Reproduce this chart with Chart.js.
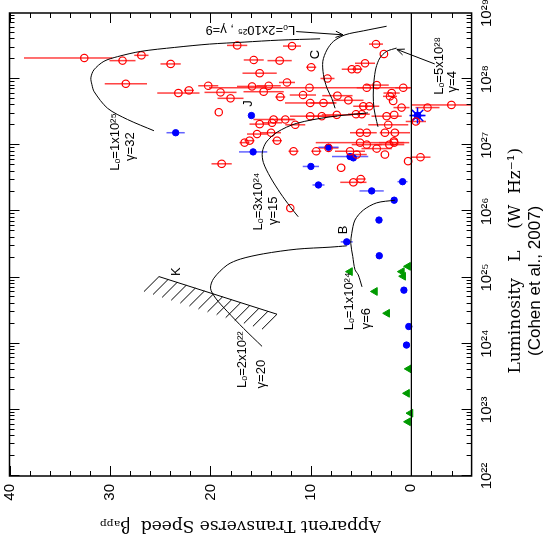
<!DOCTYPE html>
<html>
<head>
<meta charset="utf-8">
<script src="https://cdn.jsdelivr.net/npm/chart.js@4.4.1/dist/chart.umd.min.js"></script>
<style>
html, body { margin: 0; padding: 0; background: #fff; }
#marco { position: relative; width: 546px; height: 544px; overflow: hidden; background: #fff; }
/* el grafico se dibuja "de pie" y se gira 90 grados como en la figura original */
#grafico { position: absolute; left: 0; top: 0; transform-origin: 0 0; transform: translateY(544px) rotate(-90deg); }
</style>
</head>
<body>
<div id="marco"><canvas id="grafico" width="544" height="546"></canvas></div>
<script>
// ejes
const tickExps = [22, 23, 24, 25, 26, 27, 28, 29];
const betaTicks = [0, 10, 20, 30, 40];

// fuentes con movimiento (circulos rojos): beta_app, log L, error en beta
const redBeta = [32.56, 28.75, 26.87, 23.96, 28.42, 23.19, 22.14, 20.22, 19.0, 18.0, 19.17, 17.34,
  11.88, 15.69, 13.11, 15.1, 9.97, 8.35, 15.86, 14.2, 14.7, 13.05, 12.38, 10.14, 10.79, 10.07,
  8.75, 7.36, 6.27, 5.93, 5.38, 4.61, 3.52, 2.73, 4.44, 3.45, 4.78, 4.19, 1.96, 0.81, 2.13, 1.81,
  0.97, 2.46, 1.71, 2.3, 2.63, 1.64, -0.45, -1.61, -3.99, 5.51, 4.94, 7.42, 8.91, 10.07, 11.56,
  12.55, 13.87, 13.71, 15.1, 15.36, 13.97, 16.6, 16.1, 5.11, 4.44, 1.74, 13.37, 11.73, 9.47, 8.25,
  6.1, 5.44, 5.11, 4.44, 3.45, 2.63, 2.2, 1.71, 0.32, -0.91, 6.99, 5.77, 5.04, 12.05, 18.88];
const redLogL = [28.32, 28.28, 28.36, 28.23, 27.93, 27.79, 27.83, 27.90, 27.80, 27.71, 27.50, 28.51,
  28.50, 28.29, 28.28, 28.09, 28.18, 28.01, 27.89, 27.90, 27.81, 27.73, 27.95, 27.87, 27.76, 27.64,
  27.64, 27.75, 27.68, 28.15, 28.15, 28.24, 28.53, 28.38, 27.87, 27.91, 27.59, 27.59, 27.79, 27.87, 27.74, 27.67,
  27.57, 27.44, 27.46, 27.31, 27.19, 27.19, 27.36, 27.57, 27.61, 27.47, 27.47, 27.46, 27.44, 27.44, 27.31,
  27.39, 27.34, 27.39, 27.32, 27.17, 27.19, 27.04, 27.07, 27.19, 27.19, 27.06, 27.07, 26.91, 26.91, 26.96,
  26.91, 26.86, 27.04, 27.01, 26.95, 26.86, 27.01, 27.04, 26.76, 26.82, 26.66, 26.44, 26.49, 26.05, 26.72];
const redErr = [[2.8, 6.0], 1.3, 0.7, 1.0, 2.1, 2.1, 0.5, 1.0, 1.6, 1.3, 0, 1.0,
  0.9, 1.0, 1.2, 1.7, 0.5, 0.7, 1.5, 1.2, 2.0, 0.5, 0.8, 10, 1.3, 2.5,
  1.3, 1.5, 1.5, 1.0, 0.5, 1.0, 0.7, 0, 1.0, 1.2, 1.0, 1.0, 0.8, 0.8, 0.7, 0,
  0.8, 1.5, 0, 2.0, 0, 1.5, 1.0, 1.2, 4.0, 0.8, 0.8, 1.5, 1.5, 2.0, 1.0,
  1.0, 1.0, 2.0, 1.0, 1.0, 1.0, 0.5, 0.5, 1.0, 1.0, 0, 0.5, 0.5, 0.5, 1.0,
  1.5, 1.0, 4.4, 1.5, 1.5, 0, 1.5, 1.5, 0, 1.0, 0, 1.3, 0.5, 0, 1.0];

// fuentes azules (puntos llenos)
const blueBeta = [23.46, 15.92, 15.75, 10.0, 8.25, 6.1, 5.77, 9.25, 3.95, 0.87, 1.71, 3.22, 6.43, 3.19, 0.74, 0.25, 0.48];
const blueLogL = [27.19, 27.45, 26.90, 26.68, 26.97, 26.83, 26.81, 26.40, 26.31, 26.45, 26.17, 25.87, 25.54, 25.33, 24.81, 24.26, 23.98];
const blueErr = [0.9, 0, 1.4, 0.8, 1.0, 1.8, 0, 0.6, 1.2, 0.5, 0, 0, 0.6, 0, 0, 0, 0];

// estrella azul
const starBeta = [-0.62];
const starLogL = [27.45];
const starErr = [0.7];

// triangulos verdes
const greenBeta = [0.32, 6.1, 0.81, 0.94, 3.62, 2.4, 0.25, 0.42, 0.08, 0.32];
const greenLogL = [25.17, 25.09, 25.02, 25.09, 24.79, 24.46, 23.62, 23.25, 22.95, 22.82];

// curvas de aspecto
const g32Beta = [9.08, 13.18, 16.65, 20.1, 23.55, 26.93, 29.25, 30.6, 31.6, 31.9, 31.8, 31.57, 30.24, 28.25, 25.62];
const g32LogL = [28.61, 28.59, 28.56, 28.53, 28.48, 28.42, 28.34, 28.27, 28.14, 28.02, 27.92, 27.81, 27.56, 27.39, 27.22];
const g9Beta = [2.46, 4.78, 6.6, 7.76, 8.41, 8.81, 8.75, 8.41, 7.92, 7.59];
const g9LogL = [28.80, 28.73, 28.67, 28.57, 28.44, 28.27, 28.07, 27.87, 27.71, 27.56];
const g4Beta = [1.47, 2.46, 3.13, 3.52, 3.72, 3.79, 3.72, 3.45, 3.32];
const g4LogL = [28.47, 28.42, 28.32, 28.17, 27.97, 27.76, 27.56, 27.36, 27.28];
const g15Beta = [4.32, 8.09, 11.46, 13.34, 14.43, 14.83, 14.73, 14.04, 13.05, 12.05, 11.26];
const g15LogL = [27.49, 27.43, 27.33, 27.20, 27.05, 26.90, 26.74, 26.52, 26.28, 26.07, 25.92];
const g6Beta = [1.64, 3.45, 4.78, 5.61, 5.93, 6.03, 5.83, 5.61, 5.28, 4.91];
const g6LogL = [26.17, 26.13, 26.02, 25.87, 25.67, 25.52, 25.32, 25.12, 25.04, 24.86];
const g20Beta = [6.43, 8.09, 11.39, 14.7, 17.01, 18.33, 19.66, 19.99, 19.49, 18.33, 16.69, 14.86];
const g20LogL = [25.48, 25.46, 25.43, 25.36, 25.28, 25.19, 24.99, 24.84, 24.69, 24.49, 24.23, 23.96];

// limite K (linea rayada)
const kBeta = [25.12, 13.37];
const kLogL = [25.015, 24.446];

// textos: texto, beta, log L, girado
const etiquetas = [
  ["Lₒ=1x10²⁵", 29.41, 27.05, false], ["γ=32", 27.93, 26.98, false],
  ["Lₒ=3x10²⁴", 15.23, 26.15, false], ["γ=15", 13.74, 26.01, false],
  ["Lₒ=1x10²⁴", 6.2, 24.64, false], ["γ=6", 4.51, 24.38, false],
  ["Lₒ=2x10²²", 16.77, 23.76, false], ["γ=20", 14.93, 23.54, false],
  ["Lₒ=5x10²⁸", -2.83, 28.2, false], ["γ=4", -4.12, 27.96, false],
  ["Lₒ=2x10²⁵ , γ=9", 16.02, 28.75, true],
  ["J", 16.2, 27.63, false], ["C", 9.57, 28.37, false], ["B", 6.77, 25.72, false], ["K", 23.36, 25.09, false]
];
// flechas: beta y log L de cola y punta
const flechas = [
  [11.46, 28.72, 6.8, 28.67],
  [-2.33, 28.23, 1.44, 28.45]
];

const supDig = "⁰¹²³⁴⁵⁶⁷⁸⁹";
const sup = n => String(n).split("").map(d => supDig[+d]).join("");
const pts = (b, l) => b.map((v, i) => ({ x: Math.pow(10, l[i]), y: v }));

const curva = (b, l) => ({
  data: pts(b, l), showLine: true, borderColor: "#000", borderWidth: 1,
  pointRadius: 0, tension: 0.3, fill: false
});

const pixel = (chart, beta, logL) => ({
  x: chart.scales.x.getPixelForValue(Math.pow(10, logL)),
  y: chart.scales.y.getPixelForValue(beta)
});

// barras de error en beta
const barrasError = {
  id: "barrasError",
  beforeDatasetsDraw(chart) {
    const ctx = chart.ctx;
    const a = chart.chartArea;
    ctx.save();
    ctx.beginPath();
    ctx.rect(a.left, a.top, a.right - a.left, a.bottom - a.top);
    ctx.clip();
    const dibujar = (b, l, e, color, ancho) => {
      ctx.strokeStyle = color;
      ctx.lineWidth = ancho;
      b.forEach((v, i) => {
        let lo = e[i], hi = e[i];
        if (Array.isArray(e[i])) { lo = e[i][0]; hi = e[i][1]; }
        if (!lo && !hi) return;
        const p1 = pixel(chart, v - lo, l[i]);
        const p2 = pixel(chart, v + hi, l[i]);
        ctx.beginPath();
        ctx.moveTo(p1.x, p1.y);
        ctx.lineTo(p2.x, p2.y);
        ctx.stroke();
      });
    };
    dibujar(redBeta, redLogL, redErr, "rgba(255,30,30,0.85)", 1.5);
    dibujar(blueBeta, blueLogL, blueErr, "rgba(60,60,255,0.8)", 1.5);
    dibujar(starBeta, starLogL, starErr, "rgba(60,60,255,0.8)", 1.5);
    ctx.restore();
  }
};

// marco, marcas hacia adentro, textos y flechas
const adornos = {
  id: "adornos",
  afterDatasetsDraw(chart) {
    const ctx = chart.ctx;
    const a = chart.chartArea;
    const sx = chart.scales.x, sy = chart.scales.y;
    ctx.save();
    ctx.strokeStyle = "#000";
    ctx.lineWidth = 1.5;
    ctx.strokeRect(a.left, a.top, a.right - a.left, a.bottom - a.top);
    ctx.lineWidth = 1;
    ctx.beginPath();
    for (let e = 22; e < 29; e++) {
      for (let m = 1; m < 10; m++) {
        const x = Math.round(sx.getPixelForValue(m * Math.pow(10, e))) + 0.5;
        const len = m === 1 ? 10 : 5;
        ctx.moveTo(x, a.bottom); ctx.lineTo(x, a.bottom - len);
        ctx.moveTo(x, a.top); ctx.lineTo(x, a.top + len);
      }
    }
    for (let b = -4; b <= 40; b += 2) {
      const y = Math.round(sy.getPixelForValue(b)) + 0.5;
      const len = b % 10 === 0 ? 10 : 5;
      ctx.moveTo(a.left, y); ctx.lineTo(a.left + len, y);
      ctx.moveTo(a.right, y); ctx.lineTo(a.right - len, y);
    }
    ctx.stroke();

    // linea K con rayas
    const k1 = pixel(chart, kBeta[0], kLogL[0]);
    const k2 = pixel(chart, kBeta[1], kLogL[1]);
    ctx.beginPath();
    ctx.moveTo(k1.x, k1.y); ctx.lineTo(k2.x, k2.y);
    const n = 14;
    for (let i = 0; i < n; i++) {
      const t = i / (n - 1);
      const x = k1.x + (k2.x - k1.x) * t, y = k1.y + (k2.y - k1.y) * t;
      ctx.moveTo(x, y); ctx.lineTo(x - 15, y - 15);
    }
    ctx.stroke();

    // flechas
    flechas.forEach(f => {
      const p = pixel(chart, f[0], f[1]);
      const q = pixel(chart, f[2], f[3]);
      const ang = Math.atan2(q.y - p.y, q.x - p.x);
      ctx.beginPath();
      ctx.moveTo(p.x, p.y); ctx.lineTo(q.x, q.y);
      ctx.moveTo(q.x - 8 * Math.cos(ang - 0.4), q.y - 8 * Math.sin(ang - 0.4));
      ctx.lineTo(q.x, q.y);
      ctx.lineTo(q.x - 8 * Math.cos(ang + 0.4), q.y - 8 * Math.sin(ang + 0.4));
      ctx.stroke();
    });

    // textos
    ctx.fillStyle = "#000";
    ctx.font = "13px 'Liberation Sans', 'DejaVu Sans', sans-serif";
    ctx.textAlign = "center";
    ctx.textBaseline = "middle";
    etiquetas.forEach(t => {
      const p = pixel(chart, t[1], t[2]);
      ctx.save();
      ctx.translate(p.x, p.y);
      if (t[3]) ctx.rotate(-Math.PI / 2);
      ctx.fillText(t[0], 0, 0);
      ctx.restore();
    });
    ctx.restore();
  }
};

const fondo = {
  id: "fondo",
  beforeDraw(chart) {
    const ctx = chart.ctx;
    ctx.save();
    ctx.fillStyle = "#fff";
    ctx.fillRect(0, 0, chart.width, chart.height);
    ctx.restore();
  }
};

const datos = {
  datasets: [
    { data: [{ x: 1e22, y: 0 }, { x: 1e29, y: 0 }], showLine: true, borderColor: "#000", borderWidth: 1.2, pointRadius: 0 },
    curva(g32Beta, g32LogL),
    curva(g9Beta, g9LogL),
    curva(g4Beta, g4LogL),
    curva(g15Beta, g15LogL),
    curva(g6Beta, g6LogL),
    curva(g20Beta, g20LogL),
    { data: pts(redBeta, redLogL), pointStyle: "circle", pointRadius: 3.7, borderColor: "#ff0000",
      backgroundColor: "rgba(255,255,255,0)", borderWidth: 1.2 },
    { data: pts(blueBeta, blueLogL), pointStyle: "circle", pointRadius: 3.2, borderColor: "#0000ff",
      backgroundColor: "#0000ff", borderWidth: 1 },
    { data: pts(greenBeta, greenLogL), pointStyle: "triangle", pointRadius: 4.5, borderColor: "#009a00",
      backgroundColor: "#009a00", borderWidth: 1 },
    { data: pts(starBeta, starLogL), pointStyle: "star", pointRadius: 8, borderColor: "#0000ff",
      backgroundColor: "#0000ff", borderWidth: 1.5 },
    { data: pts(starBeta, starLogL), pointStyle: "circle", pointRadius: 3.5, borderColor: "#0000ff",
      backgroundColor: "#0000ff", borderWidth: 1 }
  ]
};

new Chart(document.getElementById("grafico"), {
  type: "scatter",
  data: datos,
  options: {
    responsive: false,
    animation: false,
    devicePixelRatio: 1,
    layout: { padding: { top: 8, right: 13, left: 0, bottom: 0 } },
    plugins: {
      legend: { display: false },
      tooltip: { enabled: false },
      title: {
        display: true, position: "bottom", text: "(Cohen et al., 2007) ", color: "#000",
        font: { family: "'Liberation Sans', sans-serif", size: 17, weight: "normal" },
        padding: { top: 0, bottom: 0 }
      }
    },
    scales: {
      x: {
        type: "logarithmic", min: 1e22, max: 1e29, position: "bottom",
        grid: { display: false, drawTicks: false }, border: { display: false },
        afterBuildTicks: s => { s.ticks = tickExps.map(e => ({ value: Math.pow(10, e) })); },
        afterFit: s => { s.height = 54; s.paddingLeft = 0; s.paddingRight = 0; },
        ticks: {
          callback: v => "10" + sup(Math.round(Math.log10(v))),
          color: "#000", padding: 6, maxRotation: 0, autoSkip: false,
          font: { family: "'Liberation Sans', 'DejaVu Sans', sans-serif", size: 15 }
        },
        title: {
          display: true, text: "Luminosity   L    (W  Hz⁻¹)      ", color: "#000",
          font: { family: "'DejaVu Serif', serif", size: 17 }, padding: { top: 0, bottom: 0 }
        }
      },
      y: {
        min: -6, max: 40,
        grid: { display: false, drawTicks: false }, border: { display: false },
        afterBuildTicks: s => { s.ticks = betaTicks.map(v => ({ value: v })); },
        afterFit: s => { s.width = 68; s.paddingTop = 0; s.paddingBottom = 0; },
        ticks: {
          color: "#000", padding: 8,
          font: { family: "'Liberation Sans', sans-serif", size: 15 }
        },
        title: {
          display: true, text: "Apparent Transverse Speed  βₐₚₚ", color: "#000",
          font: { family: "'DejaVu Serif', serif", size: 17 }, padding: { top: 8, bottom: 0 }
        }
      }
    }
  },
  plugins: [fondo, barrasError, adornos]
});
</script>
</body>
</html>
